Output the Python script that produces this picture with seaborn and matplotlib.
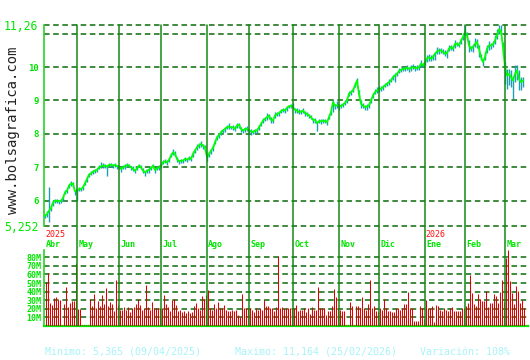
import numpy as np
import pandas as pd
import matplotlib
matplotlib.use("Agg")
import matplotlib.pyplot as plt
import matplotlib.transforms as mtransforms
from matplotlib.lines import Line2D
import seaborn as sns

# ---------------- data ----------------
close = [
    5.55, 5.60, 5.70, 5.78, 5.95, 6.00, 6.00, 5.98, 6.00, 6.08,
    6.25, 6.30, 6.45, 6.52, 6.50, 6.28, 6.30, 6.35, 6.35, 6.40,
    6.52, 6.65, 6.78, 6.82, 6.87, 6.90, 6.92, 7.00, 7.03, 7.05,
    7.05, 7.02, 7.07, 7.08, 7.05, 7.07, 7.04, 7.02, 6.95, 7.00,
    7.03, 7.07, 7.05, 7.00, 6.95, 6.90, 6.97, 7.05, 7.00, 6.90,
    6.85, 6.90, 6.92, 6.98, 7.05, 6.92, 6.97, 7.00, 7.05, 7.15,
    7.18, 7.15, 7.22, 7.35, 7.45, 7.40, 7.25, 7.18, 7.20, 7.20,
    7.25, 7.23, 7.27, 7.25, 7.40, 7.50, 7.60, 7.65, 7.70, 7.65,
    7.60, 7.30, 7.40, 7.50, 7.58, 7.75, 7.90, 7.95, 8.05, 8.10,
    8.15, 8.20, 8.22, 8.20, 8.20, 8.15, 8.25, 8.28, 8.15, 8.10,
    8.15, 8.15, 8.10, 8.08, 8.05, 8.10, 8.10, 8.20, 8.30, 8.40,
    8.45, 8.50, 8.55, 8.42, 8.40, 8.55, 8.60, 8.62, 8.68, 8.72,
    8.70, 8.78, 8.83, 8.85, 8.80, 8.72, 8.70, 8.65, 8.67, 8.70,
    8.62, 8.60, 8.55, 8.50, 8.42, 8.42, 8.32, 8.38, 8.38, 8.40,
    8.38, 8.35, 8.50, 8.65, 8.95, 8.85, 8.85, 8.85, 8.83, 8.88,
    8.93, 9.00, 9.20, 9.25, 9.30, 9.45, 9.60, 9.20, 8.90, 8.85,
    8.80, 8.82, 8.85, 9.00, 9.15, 9.25, 9.30, 9.35, 9.35, 9.40,
    9.45, 9.50, 9.55, 9.60, 9.70, 9.75, 9.80, 9.88, 9.92, 9.95,
    9.95, 9.98, 9.95, 9.97, 10.00, 9.97, 9.97, 10.00, 10.10, 10.05,
    10.15, 10.25, 10.30, 10.25, 10.30, 10.40, 10.47, 10.50, 10.50, 10.45,
    10.40, 10.42, 10.55, 10.60, 10.55, 10.70, 10.70, 10.65, 10.80, 10.90,
    11.05, 10.95, 10.65, 10.55, 10.60, 10.70, 10.75, 10.55, 10.30, 10.15,
    10.30, 10.55, 10.65, 10.65, 10.68, 10.80, 10.95, 11.13, 11.08, 10.60,
    10.00, 9.75, 9.80, 9.70, 9.60, 9.80, 9.90, 9.65, 9.55, 9.60,
]

# daily range above / below the close (hundredths of euro)
range_up = [
    5, 8, 70, 6, 8, 5, 6, 5, 4, 6,
    6, 5, 6, 8, 7, 5, 6, 5, 4, 6,
    5, 6, 5, 6, 5, 5, 6, 8, 12, 8,
    6, 5, 6, 5, 5, 6, 4, 5, 6, 8,
    6, 5, 6, 5, 8, 6, 5, 6, 6, 8,
    5, 6, 8, 6, 5, 6, 5, 6, 5, 6,
    8, 6, 6, 8, 10, 8, 6, 5, 6, 5,
    6, 5, 6, 8, 8, 6, 10, 8, 10, 6,
    6, 8, 6, 6, 8, 6, 8, 5, 6, 5,
    6, 8, 12, 5, 6, 10, 8, 6, 5, 6,
    6, 8, 5, 6, 6, 5, 8, 6, 6, 8,
    6, 12, 6, 8, 6, 10, 6, 8, 6, 6,
    8, 6, 5, 6, 12, 6, 8, 10, 6, 8,
    6, 5, 6, 8, 6, 5, 6, 8, 6, 5,
    8, 6, 10, 8, 5, 6, 12, 6, 8, 6,
    8, 6, 8, 6, 8, 8, 6, 12, 10, 8,
    6, 8, 10, 8, 6, 8, 10, 8, 8, 6,
    8, 6, 10, 8, 6, 8, 6, 8, 6, 8,
    6, 8, 6, 10, 8, 6, 8, 6, 10, 8,
    6, 12, 8, 10, 8, 6, 12, 8, 6, 8,
    10, 8, 12, 6, 8, 10, 6, 10, 8, 12,
    21, 10, 15, 8, 10, 18, 8, 12, 10, 8,
    15, 10, 12, 8, 10, 15, 20, 13, 18, 15,
    15, 20, 15, 20, 12, 25, 15, 25, 15, 10,
]
range_down = [
    8, 10, 33, 8, 10, 8, 6, 8, 6, 8,
    6, 8, 6, 8, 8, 10, 30, 6, 5, 8,
    6, 8, 6, 5, 6, 8, 6, 5, 6, 8,
    6, 27, 5, 6, 8, 6, 8, 6, 8, 6,
    8, 6, 5, 8, 6, 8, 6, 5, 6, 8,
    10, 6, 8, 6, 8, 10, 6, 8, 6, 6,
    6, 8, 6, 5, 8, 6, 10, 8, 6, 8,
    6, 8, 6, 5, 8, 6, 8, 6, 8, 10,
    12, 10, 8, 10, 8, 6, 8, 6, 8, 6,
    8, 6, 8, 6, 8, 6, 8, 10, 8, 6,
    8, 6, 8, 10, 6, 8, 6, 8, 6, 8,
    6, 8, 10, 8, 6, 8, 6, 8, 6, 6,
    6, 8, 6, 8, 6, 10, 8, 6, 8, 6,
    8, 6, 8, 6, 10, 8, 22, 6, 8, 6,
    6, 8, 6, 8, 30, 10, 8, 12, 6, 8,
    6, 8, 6, 8, 6, 6, 8, 10, 12, 8,
    8, 10, 6, 8, 8, 6, 8, 10, 6, 8,
    6, 8, 10, 6, 8, 20, 8, 6, 8, 6,
    8, 6, 10, 8, 6, 8, 6, 8, 10, 6,
    8, 10, 12, 8, 10, 20, 8, 10, 8, 6,
    8, 15, 8, 10, 8, 12, 8, 6, 10, 8,
    10, 12, 20, 8, 15, 10, 18, 25, 10, 12,
    10, 12, 15, 10, 8, 12, 10, 15, 10, 20,
    50, 40, 35, 30, 55, 25, 30, 35, 25, 20,
]

volume_m = [
    51, 62, 27, 24, 33, 34, 30, 30, 1, 26,
    45, 22, 27, 29, 29, 73, 20, 20, 1, 1,
    1, 1, 32, 23, 37, 21, 29, 23, 36, 26,
    44, 23, 28, 26, 18, 53, 24, 19, 19, 22,
    19, 22, 16, 21, 22, 26, 31, 24, 19, 21,
    48, 22, 19, 28, 21, 21, 21, 21, 21, 36,
    26, 22, 17, 30, 31, 24, 17, 19, 16, 18,
    15, 18, 15, 16, 23, 27, 21, 19, 35, 31,
    36, 42, 21, 19, 26, 21, 28, 21, 21, 24,
    19, 17, 17, 19, 17, 19, 13, 11, 37, 21,
    21, 21, 21, 19, 16, 21, 19, 21, 19, 30,
    23, 23, 21, 21, 17, 22, 81, 21,
    22, 20, 21, 21, 21, 21, 21, 24, 17, 19,
    19, 21, 16, 21, 14, 22, 19, 19, 45, 21,
    21, 21, 13, 17, 17, 23, 43, 34, 21, 19,
    18, 17, 1, 1, 28, 23, 1, 23, 23, 21,
    34, 21, 19, 26, 53, 21, 23, 17, 16, 21,
    19, 31, 21, 18, 17, 16, 16, 21, 21, 19,
    21, 26, 26, 40, 21, 21, 6, 6, 6, 23,
    21, 8, 30, 21, 21, 23, 5, 24, 23, 19,
    17, 21, 19, 17, 21, 22, 17, 17, 18, 17,
    21, 21, 23, 27, 59, 39, 26, 23, 37, 31,
    29, 29, 41, 22, 27, 27, 37, 35, 27, 40,
    53, 28, 79, 88, 52, 38, 26, 46, 41, 27,
    30, 21,
]

month_start = [0, 16, 37, 58, 81, 102, 124, 147, 167, 190, 210, 230]
month_labels = ["Abr", "May", "Jun", "Jul", "Ago", "Sep", "Oct", "Nov", "Dic", "Ene", "Feb", "Mar"]
year_start = [0, 190]
year_labels = ["2025", "2026"]

price_ticks = [5.252, 6, 7, 8, 9, 10, 11, 11.26]
price_tick_labels = ["5,252", "6", "7", "8", "9", "10", "", "11,26"]
vol_ticks = [10, 20, 30, 40, 50, 60, 70, 80]
vol_tick_labels = ["10M", "20M", "30M", "40M", "50M", "60M", "70M", "80M"]

stats = ["Minimo: 5,365 (09/04/2025)", "Maximo: 11,164 (25/02/2026)", "Variación: 108%"]

# ---------------- styling ----------------
sns.set_theme(style="white")
plt.rcParams["font.family"] = ["DejaVu Sans Mono", "DejaVu Sans"]
plt.rcParams["lines.scale_dashes"] = False

GRID = "#0a6b0a"
VLINE = "#138a13"
BRIGHT = "#00e600"
AXIS = "#2bd12b"
TEAL = "#1c9fb2"
LINEG = "#00ff00"
RED = "#e00000"
CYAN = "#a8f4f8"

W, H = 530, 360
fig = plt.figure(figsize=(5.3, 3.6), dpi=100)
fig.patch.set_facecolor("white")

def fx(px):
    return px / W

def fy(py):
    return 1 - py / H

n = len(close)
df = pd.DataFrame({
    "day": np.arange(n),
    "close": close,
    "high": np.array(close) + np.array(range_up) / 100.0,
    "low": np.array(close) - np.array(range_down) / 100.0,
    "volume": volume_m,
})

x_left_px, x_right_px = 44, 528
xlim = (-0.5, 241.5)

# ---------------- price panel ----------------
ax = fig.add_axes([fx(x_left_px), fy(225.7), fx(x_right_px - x_left_px), 200.7 / H])
ax.set_facecolor("white")
ax.set_xlim(*xlim)
ax.set_ylim(5.252, 11.26)
for yv in price_ticks:
    ax.axhline(yv, color=GRID, lw=1.1, ls=(0, (4.0, 2.6)), clip_on=False, zorder=1)

ax.vlines(df["day"], df["low"], df["high"], color=TEAL, lw=1.0, zorder=3)
sns.lineplot(data=df, x="day", y="close", ax=ax, color=LINEG, lw=1.3, zorder=4)

ax.set_xlabel("")
ax.set_ylabel("")
ax.set_xticks([])
ax.set_yticks(price_ticks)
ax.set_yticklabels(price_tick_labels)
ax.tick_params(axis="y", length=0, pad=4)
for lab, txt in zip(ax.get_yticklabels(), price_tick_labels):
    lab.set_color(BRIGHT)
    if "," in txt:
        lab.set_fontsize(8.3)
    else:
        lab.set_fontsize(6.5)
        lab.set_fontweight("bold")
for s in ["top", "right", "bottom"]:
    ax.spines[s].set_visible(False)
ax.spines["left"].set_color(AXIS)
ax.spines["left"].set_linewidth(1.2)
ax.set_xlim(*xlim)

# ---------------- volume panel ----------------
vax = fig.add_axes([fx(x_left_px), fy(326), fx(x_right_px - x_left_px), 76 / H])
vax.set_facecolor("white")
for yv in vol_ticks:
    vax.axhline(yv, color=GRID, lw=1.1, ls=(0, (4.0, 2.6)), zorder=1)
vax.vlines(df["day"] + 0.25, 0, df["volume"], color=RED, lw=0.75, zorder=3)
vax.set_xlim(*xlim)
vax.set_ylim(0, 88.5)
vax.set_xlabel("")
vax.set_ylabel("")
vax.set_xticks([])
vax.set_yticks(vol_ticks)
vax.set_yticklabels(vol_tick_labels)
vax.tick_params(axis="y", length=0, pad=2)
for lab in vax.get_yticklabels():
    lab.set_color(BRIGHT)
    lab.set_fontsize(6)
    lab.set_fontweight("bold")
for s in ["top", "right"]:
    vax.spines[s].set_visible(False)
vax.spines["left"].set_color(AXIS)
vax.spines["left"].set_linewidth(1.2)
vax.spines["bottom"].set_color(BRIGHT)
vax.spines["bottom"].set_linewidth(1.6)

# ---------------- month lines and labels ----------------
trans = mtransforms.blended_transform_factory(ax.transData, fig.transFigure)
for idx in month_start[1:]:
    fig.add_artist(Line2D([idx, idx], [fy(25), fy(326)], transform=trans,
                          color=VLINE, lw=1.1, zorder=5))
for idx, lab in zip(month_start, month_labels):
    fig.text(idx + 0.6, fy(244.5), lab, transform=trans, color=BRIGHT,
             fontsize=6, fontweight="bold", ha="left", va="center")
for idx, lab in zip(year_start, year_labels):
    fig.text(idx + 0.3, fy(234.5), lab, transform=trans, color="#ff1010",
             fontsize=6, ha="left", va="center")

# ---------------- other texts ----------------
fig.text(fx(13), fy(130), "www.bolsagrafica.com", rotation=90, color="#222222",
         fontsize=10, ha="center", va="center")
fig.text(fx(45), fy(352), stats[0], color=CYAN, fontsize=7.2, ha="left", va="center")
fig.text(fx(235), fy(352), stats[1], color=CYAN, fontsize=7.2, ha="left", va="center")
fig.text(fx(420), fy(352), stats[2], color=CYAN, fontsize=7.2, ha="left", va="center")

fig.savefig("out.png", dpi=100, facecolor="white")
